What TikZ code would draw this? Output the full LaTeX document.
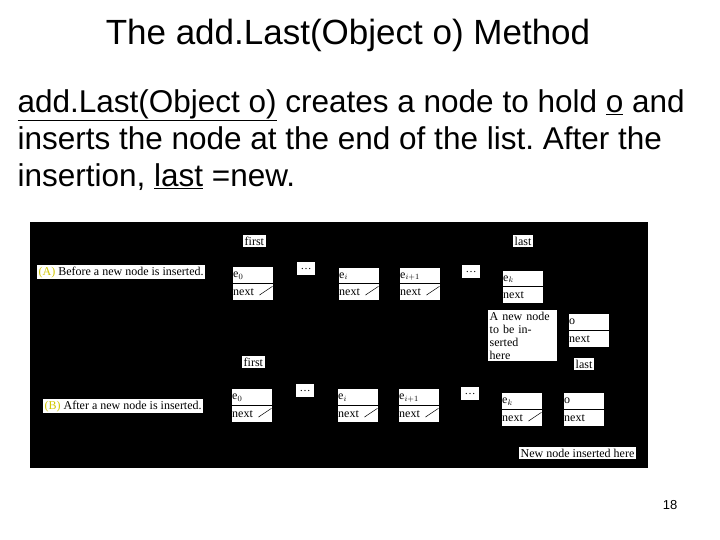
\documentclass[tikz,border=0pt]{standalone}
\usepackage{fontspec}
\setmainfont{Liberation Sans}
\newfontfamily\tms{Liberation Serif}
\frenchspacing
\begin{document}
\begin{tikzpicture}[x=1pt,y=-1pt,
  box/.style={draw=black,fill=white,line width=0.4pt,inner sep=1pt,font=\tms\fontsize{12}{12}\selectfont,anchor=north west,text depth=0pt},
  lbl/.style={fill=white,inner sep=1.5pt,font=\tms\fontsize{12}{13}\selectfont,anchor=north west,align=left},
  dots/.style={fill=white,minimum width=18pt,minimum height=13pt,inner sep=0pt,anchor=north west,font=\tms\fontsize{11}{11}\selectfont},
  slash/.style={line width=0.5pt}]
\useasboundingbox (0,0) rectangle (720,540);
\node[font=\fontsize{35}{40}\selectfont] (title) at (348,35) {The add.Last(Object o) Method};
\node[anchor=west,align=left,font=\fontsize{31.5}{37}\selectfont] (body) at (14,140)
 {\underline{add.Last(Object o)} creates a node to hold \underline{o} and\\inserts the node at the end of the list. After the\\insertion, \underline{last} =new.};
\node[font=\fontsize{13}{15}\selectfont] (pg) at (670,505) {18};
\fill[black] (30,222) rectangle (648,468);
\newcommand{\rec}[5]{% name, x, y top, height, label
  \node[box,minimum width=41pt,minimum height=#4pt,text width=39pt,align=left] (#1t) at (#2,#3) {#5};
  \node[box,minimum width=41pt,minimum height=17pt,text width=39pt,align=left] (#1b) at (#1t.south west) {next};}
% Part A
\node[lbl] (firstA) at (243,235) {first};
\node[lbl] (capA) at (37,265) {\textcolor{yellow!60!olive}{(A)} Before a new node is inserted.};
\rec{a0}{232}{266}{17}{e$_0$}
\node[dots] (dotsA1) at (297,262) {\dots};
\rec{ai}{338}{267}{16}{e$_i$}
\rec{aj}{399}{267}{16}{e$_{i+1}$}
\node[dots] (dotsA2) at (462,265) {\dots};
\node[lbl] (lastA) at (513,235) {last};
\rec{ak}{502}{270}{16}{e$_k$}
\node[lbl,text width=66pt] (newA) at (488,310) {A new node\\to be inserted\\here};
\rec{ao}{568}{313}{17}{o}
% Part B
\node[lbl] (firstB) at (242,356) {first};
\node[lbl] (capB) at (43,399) {\textcolor{yellow!60!olive}{(B)} After a new node is inserted.};
\rec{b0}{231}{388}{17}{e$_0$}
\node[dots] (dotsB1) at (296,384) {\dots};
\rec{bi}{337}{388}{17}{e$_i$}
\rec{bj}{398}{388}{17}{e$_{i+1}$}
\node[dots] (dotsB2) at (461,387) {\dots};
\rec{bk}{501}{392}{17}{e$_k$}
\node[lbl] (lastB) at (574,358) {last};
\rec{bo}{563}{392}{17}{o}
\node[lbl] (insB) at (519,447) {New node inserted here};
\foreach \n in {a0,ai,aj,b0,bi,bj,bk}
  \draw[slash] ([xshift=-14pt,yshift=-3pt]\n b.east) -- ([xshift=-1pt,yshift=-3pt]\n b.north east);
\end{tikzpicture}
\end{document}
